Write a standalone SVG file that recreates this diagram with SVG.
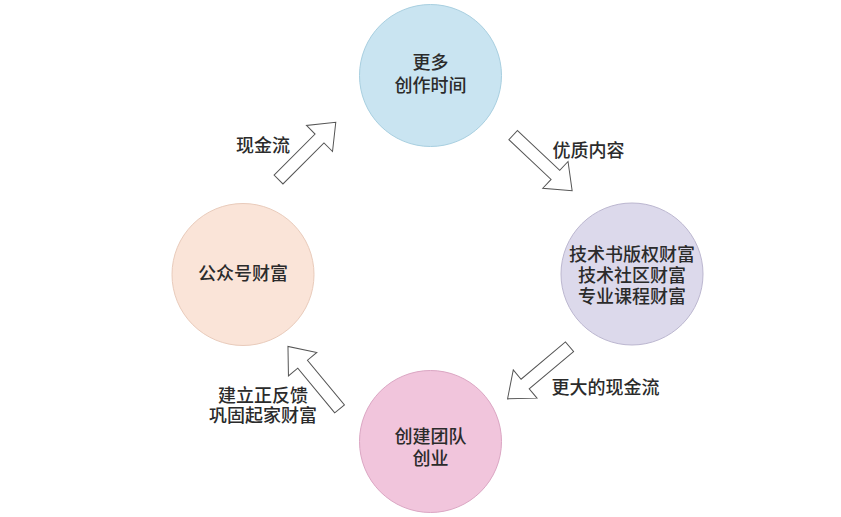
<svg xmlns="http://www.w3.org/2000/svg" width="841" height="517" viewBox="0 0 841 517">
  <defs>
    <style>
      .lbl { font-family: "Noto Sans CJK SC", "Noto Sans", sans-serif; font-size: 18px; font-weight: 500; fill: #2b2b2b; }
      .arrow { fill: #ffffff; stroke: #555555; stroke-width: 1; stroke-linejoin: miter; }
    </style>
    <path id="blockArrow" d="M0,-6.3 L58,-6.3 L58,-18.4 L81,0 L58,18.4 L58,6.3 L0,6.3 Z"/>
  </defs>
  <rect width="841" height="517" fill="#ffffff"/>

  <g id="node-time">
    <circle cx="430.5" cy="75.5" r="71" fill="#c9e4f1" stroke="#a8cfe0" stroke-width="1"/>
    <text class="lbl" x="430.5" y="69" text-anchor="middle">更多</text>
    <text class="lbl" x="430.5" y="92" text-anchor="middle">创作时间</text>
  </g>

  <g id="node-wealth">
    <circle cx="632" cy="274" r="71" fill="#dcd9eb" stroke="#bcb7d0" stroke-width="1"/>
    <text class="lbl" x="632" y="261" text-anchor="middle">技术书版权财富</text>
    <text class="lbl" x="632" y="282" text-anchor="middle">技术社区财富</text>
    <text class="lbl" x="632" y="302.5" text-anchor="middle">专业课程财富</text>
  </g>

  <g id="node-team">
    <circle cx="430.5" cy="441.5" r="71" fill="#f1c5dc" stroke="#dba6c3" stroke-width="1"/>
    <text class="lbl" x="430.5" y="443" text-anchor="middle">创建团队</text>
    <text class="lbl" x="430.5" y="465" text-anchor="middle">创业</text>
  </g>

  <g id="node-account">
    <circle cx="243" cy="274.5" r="71" fill="#fae4d8" stroke="#e9cbbb" stroke-width="1"/>
    <text class="lbl" x="243" y="280" text-anchor="middle">公众号财富</text>
  </g>

  <g id="connectors">
    <use href="#blockArrow" class="arrow" transform="translate(278.5,179.5) rotate(-45)"/>
    <use href="#blockArrow" class="arrow" transform="translate(513.2,135.1) rotate(43.3)"/>
    <use href="#blockArrow" class="arrow" transform="translate(569.5,346.7) rotate(139.9)"/>
    <use href="#blockArrow" class="arrow" transform="translate(339.6,408.9) rotate(-129.6)"/>
    <text class="lbl" x="236" y="152">现金流</text>
    <text class="lbl" x="552.5" y="157">优质内容</text>
    <text class="lbl" x="551.5" y="394">更大的现金流</text>
    <text class="lbl" x="263" y="402" text-anchor="middle">建立正反馈</text>
    <text class="lbl" x="263" y="422" text-anchor="middle">巩固起家财富</text>
  </g>
</svg>
